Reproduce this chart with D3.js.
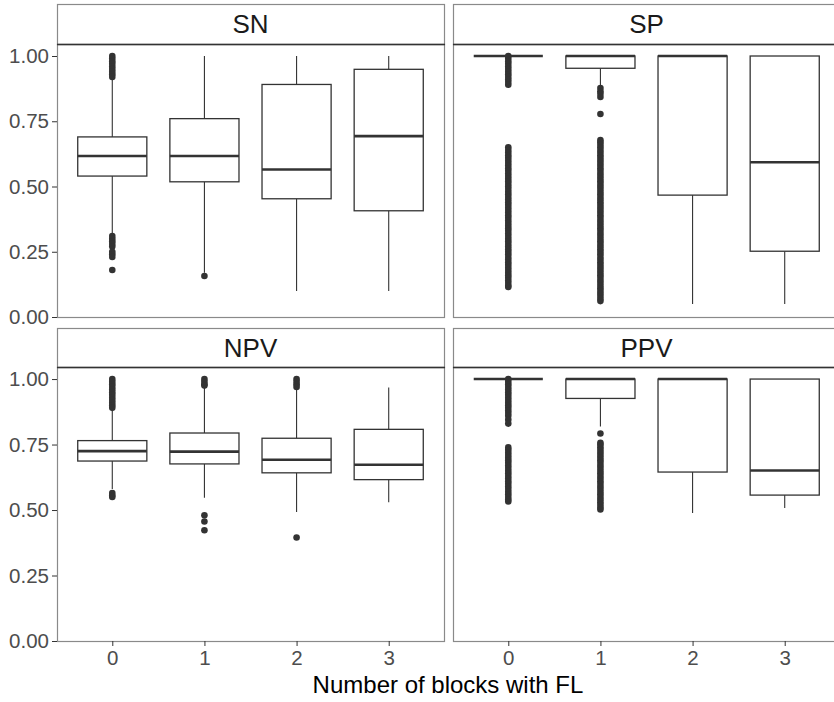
<!DOCTYPE html>
<html>
<head>
<meta charset="utf-8">
<script src="https://cdn.jsdelivr.net/npm/d3@7"></script>
<style>
  body { margin: 0; background: #fff; }
  svg { font-family: "Liberation Sans", Arial, sans-serif; }
</style>
</head>
<body>
<svg id="chart" width="834" height="702"></svg>
<script>
// categories on x, facets
const categories = ["0", "1", "2", "3"]
const metrics = ["SN", "SP", "NPV", "PPV"]
const yTicks = [0, 0.25, 0.5, 0.75, 1]

// box stats per category: [lower whisker, q1, median, q3, upper whisker]
const snBoxes = [[0.32, 0.54, 0.617, 0.69, 0.91], [0.17, 0.518, 0.617, 0.76, 1.0], [0.10, 0.453, 0.565, 0.891, 1.0], [0.10, 0.407, 0.693, 0.949, 1.0]]
const spBoxes = [[1.0, 1.0, 1.0, 1.0, 1.0], [0.885, 0.953, 1.0, 1.0, 1.0], [0.05, 0.467, 1.0, 1.0, 1.0], [0.05, 0.252, 0.593, 1.0, 1.0]]
const npvBoxes = [[0.58, 0.687, 0.725, 0.765, 0.88], [0.547, 0.676, 0.723, 0.794, 0.97], [0.492, 0.642, 0.692, 0.774, 0.96], [0.53, 0.616, 0.673, 0.808, 0.968]]
const ppvBoxes = [[1.0, 1.0, 1.0, 1.0, 1.0], [0.819, 0.926, 1.0, 1.0, 1.0], [0.489, 0.645, 1.0, 1.0, 1.0], [0.508, 0.557, 0.651, 1.0, 1.0]]

// outliers per category
const snOutliers = [
  [1.0, 0.99, 0.98, 0.97, 0.96, 0.95, 0.94, 0.93, 0.92, 0.31, 0.30, 0.29, 0.28, 0.27, 0.25, 0.24, 0.23, 0.18],
  [0.157], [], []
]
const spOutliers = [
  [1.0, 0.99, 0.98, 0.97, 0.96, 0.95, 0.94, 0.93, 0.92, 0.91, 0.90, 0.89,
   0.65, 0.64, 0.63, 0.62, 0.61, 0.60, 0.59, 0.58, 0.57, 0.56, 0.55, 0.54, 0.53, 0.52, 0.51, 0.50,
   0.49, 0.48, 0.47, 0.46, 0.45, 0.44, 0.43, 0.42, 0.41, 0.40, 0.39, 0.38, 0.37, 0.36, 0.35, 0.34,
   0.33, 0.32, 0.31, 0.30, 0.29, 0.28, 0.27, 0.26, 0.25, 0.24, 0.23, 0.22, 0.21, 0.20, 0.19, 0.18,
   0.17, 0.16, 0.15, 0.14, 0.13, 0.12, 0.115],
  [0.877, 0.865, 0.855, 0.843, 0.778,
   0.678, 0.67, 0.66, 0.65, 0.64, 0.63, 0.62, 0.61, 0.60, 0.59, 0.58, 0.57, 0.56, 0.55, 0.54, 0.53,
   0.52, 0.51, 0.50, 0.49, 0.48, 0.47, 0.46, 0.45, 0.44, 0.43, 0.42, 0.41, 0.40, 0.39, 0.38, 0.37,
   0.36, 0.35, 0.34, 0.33, 0.32, 0.31, 0.30, 0.29, 0.28, 0.27, 0.26, 0.25, 0.24, 0.23, 0.22, 0.21,
   0.20, 0.19, 0.18, 0.17, 0.16, 0.15, 0.14, 0.13, 0.12, 0.11, 0.10, 0.09, 0.08, 0.07, 0.061],
  [], []
]
const npvOutliers = [
  [1.0, 0.99, 0.98, 0.97, 0.96, 0.95, 0.94, 0.93, 0.92, 0.91, 0.90, 0.89, 0.565, 0.555, 0.55],
  [1.0, 0.99, 0.98, 0.975, 0.48, 0.456, 0.423],
  [1.0, 0.99, 0.98, 0.97, 0.395],
  []
]
const ppvOutliers = [
  [1.0, 0.99, 0.98, 0.97, 0.96, 0.95, 0.94, 0.93, 0.92, 0.91, 0.90, 0.89, 0.88, 0.87, 0.86, 0.845, 0.83,
   0.739, 0.73, 0.72, 0.71, 0.70, 0.69, 0.68, 0.67, 0.66, 0.65, 0.64, 0.63, 0.62, 0.61, 0.60, 0.59,
   0.58, 0.57, 0.56, 0.55, 0.54, 0.533],
  [0.792, 0.757, 0.75, 0.74, 0.73, 0.72, 0.71, 0.70, 0.69, 0.68, 0.67, 0.66, 0.65, 0.64, 0.63, 0.62,
   0.61, 0.60, 0.59, 0.58, 0.57, 0.56, 0.55, 0.54, 0.53, 0.52, 0.51, 0.502],
  [], []
]

const boxesByMetric = { SN: snBoxes, SP: spBoxes, NPV: npvBoxes, PPV: ppvBoxes }
const outliersByMetric = { SN: snOutliers, SP: spOutliers, NPV: npvOutliers, PPV: ppvOutliers }

const svg = d3.select("#chart")

// the right column runs past the page edge, as in the reference
const colX = [[57, 444], [453, 840]]
const rowY = [{ strip: 4, top: 44, bottom: 317 }, { strip: 328, top: 367, bottom: 641 }]
const ink = "#333333"
const borderCol = "#8a8a8a"

metrics.forEach(function (m, idx) {
  const col = idx % 2, row = Math.floor(idx / 2)
  const x0 = colX[col][0], x1 = colX[col][1]
  const r = rowY[row]

  const x = d3.scalePoint().domain(categories).range([x0, x1]).padding(0.6)
  const y = d3.scaleLinear().domain([0, 1.046]).range([r.bottom, r.top])
  const bw = x.step() * 0.75

  const g = svg.append("g")

  // strip
  g.append("rect")
    .attr("x", x0 + 0.5).attr("y", r.strip + 0.5)
    .attr("width", x1 - x0).attr("height", r.top - r.strip)
    .attr("fill", "#fff").attr("stroke", borderCol).attr("stroke-width", 1.2)
  g.append("text")
    .attr("x", (x0 + x1) / 2).attr("y", (r.strip + r.top) / 2 + 9)
    .attr("text-anchor", "middle")
    .attr("font-size", 26).attr("fill", "#1a1a1a")
    .text(m)

  // panel border
  g.append("rect")
    .attr("x", x0 + 0.5).attr("y", r.top + 0.5)
    .attr("width", x1 - x0).attr("height", r.bottom - r.top)
    .attr("fill", "none").attr("stroke", borderCol).attr("stroke-width", 1.2)
  g.append("line")
    .attr("x1", x0).attr("x2", x1 + 1).attr("y1", r.top + 0.5).attr("y2", r.top + 0.5)
    .attr("stroke", ink).attr("stroke-width", 1.3)

  const boxes = boxesByMetric[m]
  const outs = outliersByMetric[m]

  const bx = g.selectAll(".box").data(boxes).enter().append("g")
    .attr("transform", (d, i) => "translate(" + x(categories[i]) + ",0)")

  // whiskers
  bx.append("line")
    .attr("y1", d => y(d[3])).attr("y2", d => y(d[4]))
    .attr("stroke", ink).attr("stroke-width", 1.1)
  bx.append("line")
    .attr("y1", d => y(d[1])).attr("y2", d => y(d[0]))
    .attr("stroke", ink).attr("stroke-width", 1.1)

  // outliers
  bx.selectAll("circle").data((d, i) => outs[i]).enter().append("circle")
    .attr("cx", 0).attr("cy", v => y(v)).attr("r", 3.3)
    .attr("fill", ink)

  // box
  bx.append("rect")
    .attr("x", -bw / 2).attr("width", bw)
    .attr("y", d => y(d[3])).attr("height", d => Math.max(0, y(d[1]) - y(d[3])))
    .attr("fill", "#fff").attr("stroke", ink).attr("stroke-width", 1.3)
  bx.append("line")
    .attr("x1", -bw / 2).attr("x2", bw / 2)
    .attr("y1", d => y(d[2])).attr("y2", d => y(d[2]))
    .attr("stroke", ink).attr("stroke-width", 2.6)

  // y axis on the left column
  if (col === 0) {
    const ya = g.append("g")
      .attr("transform", "translate(" + x0 + ",0)")
      .call(d3.axisLeft(y).tickValues(yTicks).tickFormat(d3.format(".2f")).tickSize(5).tickPadding(3))
    ya.select(".domain").remove()
    ya.selectAll("line").attr("stroke", ink)
    ya.selectAll("text").attr("font-size", 20.5).attr("fill", "#4d4d4d").attr("font-family", "Liberation Sans, Arial, sans-serif")
  }
  // x axis on the bottom row
  if (row === 1) {
    const xa = g.append("g")
      .attr("transform", "translate(0," + r.bottom + ")")
      .call(d3.axisBottom(x).tickSize(5).tickPadding(4))
    xa.select(".domain").remove()
    xa.selectAll("line").attr("stroke", ink)
    xa.selectAll("text").attr("font-size", 20.5).attr("fill", "#4d4d4d").attr("font-family", "Liberation Sans, Arial, sans-serif")
  }
})

svg.append("text")
  .attr("x", 448).attr("y", 693)
  .attr("text-anchor", "middle")
  .attr("font-size", 24).attr("fill", "#000")
  .text("Number of blocks with FL")
</script>
</body>
</html>
